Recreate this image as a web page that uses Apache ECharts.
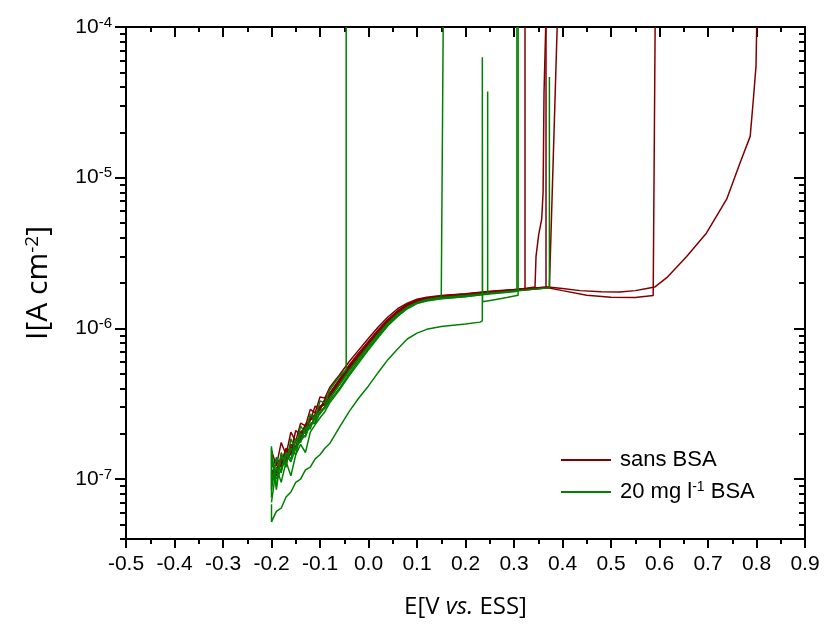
<!DOCTYPE html>
<html>
<head>
<meta charset="utf-8">
<script src="https://cdn.jsdelivr.net/npm/echarts@6/dist/echarts.min.js"></script>
<style>html,body{margin:0;padding:0;background:#fff;}#c{width:824px;height:624px;}</style>
</head>
<body>
<div id="c"></div>
<script>
// ---- tick values ----
const X_MIN = -0.5, X_MAX = 0.9, X_STEP = 0.1;
const Y_MIN = 4e-8, Y_MAX = 1e-4;
const Y_MAJOR = [1e-7, 1e-6, 1e-5, 1e-4];
const Y_MINOR = [4e-8,5e-8,6e-8,7e-8,8e-8,9e-8,
  2e-7,3e-7,4e-7,5e-7,6e-7,7e-7,8e-7,9e-7,
  2e-6,3e-6,4e-6,5e-6,6e-6,7e-6,8e-6,9e-6,
  2e-5,3e-5,4e-5,5e-5,6e-5,7e-5,8e-5,9e-5];

// ---- shared potential grid (V vs ESS) ----
const E_GRID = [-0.20,-0.19,-0.18,-0.17,-0.16,-0.15,-0.14,-0.13,-0.12,-0.11,-0.10,-0.09,-0.08,
  -0.06,-0.04,-0.02,0.00,0.02,0.04,0.06,0.08,0.10,0.12,0.15,0.20,0.25,0.30,0.35];

// ---- sans BSA (currents, A cm-2) ----
const R1_I = [1.55e-7,1.22e-7,1.75e-7,1.45e-7,2.05e-7,1.78e-7,2.35e-7,2.25e-7,2.90e-7,2.75e-7,3.50e-7,3.45e-7,4.05e-7,
  4.9e-7,6.0e-7,7.2e-7,8.6e-7,1.02e-6,1.19e-6,1.35e-6,1.47e-6,1.56e-6,1.61e-6,1.65e-6,1.70e-6,1.76e-6,1.81e-6];
const R1_TAIL = [[0.3227,1.84e-6],[0.3227,1e-4]];
const R2_I = [1.20e-7,1.35e-7,1.28e-7,1.60e-7,1.50e-7,2.10e-7,1.95e-7,2.30e-7,2.45e-7,3.05e-7,2.85e-7,3.40e-7,3.70e-7,
  4.6e-7,5.7e-7,6.9e-7,8.2e-7,9.8e-7,1.15e-6,1.31e-6,1.45e-6,1.54e-6,1.59e-6,1.64e-6,1.69e-6,1.75e-6,1.80e-6];
const R2_TAIL = [[0.3433,1.88e-6],[0.3454,3.0e-6],[0.351,4.2e-6],[0.3571,5.3e-6],[0.360,8.0e-6],[0.3619,3.66e-5],[0.3654,1e-4]];
const R3_I = [0.95e-7,1.15e-7,1.40e-7,1.30e-7,1.48e-7,1.62e-7,1.85e-7,2.30e-7,2.25e-7,2.55e-7,3.05e-7,3.10e-7,3.55e-7,
  4.4e-7,5.4e-7,6.5e-7,7.8e-7,9.3e-7,1.10e-6,1.26e-6,1.40e-6,1.50e-6,1.56e-6,1.61e-6,1.66e-6,1.72e-6,1.78e-6,1.84e-6];
const R3_TAIL = [[0.366,1.87e-6],[0.366,1e-4]];
const R4_I = [1.30e-7,1.10e-7,1.25e-7,1.55e-7,1.45e-7,1.80e-7,1.90e-7,2.10e-7,2.60e-7,2.60e-7,2.95e-7,3.35e-7,3.65e-7,
  4.5e-7,5.55e-7,6.7e-7,8.0e-7,9.6e-7,1.13e-6,1.29e-6,1.43e-6,1.52e-6,1.58e-6,1.63e-6,1.68e-6,1.74e-6,1.80e-6,1.86e-6];
const R4_TAIL = [[0.373,1.88e-6],[0.389,1e-4]];
const R5_I = [1.05e-7,1.30e-7,1.20e-7,1.50e-7,1.62e-7,1.65e-7,2.05e-7,2.20e-7,2.45e-7,2.70e-7,2.95e-7,3.30e-7,3.70e-7,
  4.5e-7,5.5e-7,6.6e-7,7.9e-7,9.4e-7,1.12e-6,1.28e-6,1.42e-6,1.52e-6,1.58e-6,1.63e-6,1.68e-6,1.74e-6,1.80e-6,1.86e-6];
const R5_TAIL = [[0.37,1.88e-6],[0.40,1.84e-6],[0.436,1.78e-6],[0.48,1.75e-6],[0.518,1.74e-6],[0.55,1.78e-6],
  [0.574,1.84e-6],[0.59,1.88e-6],[0.615,2.17e-6],[0.656,3.0e-6],[0.697,4.3e-6],[0.7385,7.2e-6],
  [0.766,1.25e-5],[0.787,1.88e-5],[0.7935,3.3e-5],[0.799,5.5e-5],[0.8004,1e-4]];
const R6_I = [1.15e-7,1.05e-7,1.35e-7,1.35e-7,1.70e-7,1.60e-7,1.95e-7,2.05e-7,2.50e-7,2.50e-7,3.00e-7,3.15e-7,3.50e-7,
  4.3e-7,5.3e-7,6.4e-7,7.7e-7,9.2e-7,1.09e-6,1.25e-6,1.39e-6,1.49e-6,1.55e-6,1.60e-6,1.65e-6,1.71e-6,1.77e-6,1.83e-6];
const R6_TAIL = [[0.37,1.86e-6],[0.40,1.78e-6],[0.45,1.66e-6],[0.50,1.61e-6],[0.55,1.60e-6],[0.587,1.65e-6],[0.591,1.67e-6],[0.591,1e-4]];

// ---- 20 mg l-1 BSA ----
const G1_LEAD = [[-0.2,6.8e-8]];
const G1_I = [5.2e-8,6.1e-8,6.4e-8,7.6e-8,8.2e-8,9.5e-8,1.0e-7,1.15e-7,1.2e-7,1.36e-7,1.45e-7,1.6e-7,1.72e-7,
  2.2e-7,2.8e-7,3.45e-7,4.15e-7,5.1e-7,6.2e-7,7.3e-7,8.5e-7,9.3e-7,9.85e-7,1.03e-6,1.07e-6];
const G1_TAIL = [[0.2299,1.10e-6],[0.2347,1.12e-6],[0.2347,6.3e-5],[0.2352,1.50e-6],[0.26,1.55e-6],[0.285,1.60e-6],[0.3085,1.66e-6],[0.3085,1e-4]];
const G2_LEAD = [[-0.2,7.5e-8]];
const G2_I = [1.60e-7,0.85e-7,1.45e-7,1.20e-7,1.85e-7,1.55e-7,2.25e-7,2.00e-7,2.70e-7,2.45e-7,3.30e-7,3.20e-7,3.90e-7,4.8e-7];
const G2_TAIL = [[-0.046,5.3e-7],[-0.046,1e-4]];
const G3_LEAD = [[-0.2,1.65e-7]];
const G3_I = [0.85e-7,1.40e-7,1.10e-7,1.50e-7,1.35e-7,1.85e-7,1.75e-7,2.20e-7,2.15e-7,2.70e-7,2.70e-7,3.05e-7,3.45e-7,
  4.2e-7,5.2e-7,6.3e-7,7.6e-7,9.1e-7,1.08e-6,1.24e-6,1.38e-6,1.48e-6,1.55e-6,1.60e-6];
const G3_TAIL = [[0.154,1.64e-6],[0.154,1e-4]];
const G4_I = [0.70e-7,1.20e-7,0.95e-7,1.30e-7,1.05e-7,1.45e-7,1.70e-7,1.50e-7,2.05e-7,2.30e-7,2.55e-7,2.80e-7,3.20e-7,
  3.9e-7,4.85e-7,5.9e-7,7.2e-7,8.7e-7,1.04e-6,1.20e-6,1.35e-6,1.46e-6,1.52e-6,1.57e-6,1.62e-6];
const G4_TAIL = [[0.2457,1.70e-6],[0.2457,3.73e-5]];
const G5_I = [1.10e-7,0.90e-7,1.50e-7,1.25e-7,1.60e-7,1.45e-7,2.00e-7,1.90e-7,2.35e-7,2.40e-7,2.80e-7,3.00e-7,3.40e-7,
  4.25e-7,5.25e-7,6.35e-7,7.65e-7,9.15e-7,1.08e-6,1.24e-6,1.38e-6,1.48e-6,1.55e-6,1.60e-6,1.65e-6,1.71e-6,1.77e-6,1.83e-6];
const G5_TAIL = [[0.373,1.86e-6],[0.373,4.66e-5]];
const G6_I = [1.35e-7,1.00e-7,1.15e-7,1.45e-7,1.30e-7,1.60e-7,1.80e-7,1.95e-7,2.30e-7,2.35e-7,2.75e-7,2.95e-7,3.30e-7,
  4.0e-7,5.0e-7,6.1e-7,7.35e-7,8.85e-7,1.05e-6,1.21e-6,1.36e-6,1.47e-6,1.53e-6,1.58e-6,1.63e-6,1.69e-6,1.75e-6];
const G6_TAIL = [[0.306,1.76e-6],[0.306,1e-4]];

const NAME_R = 'sans BSA';
const NAME_G = '20 mg l-1 BSA';
const COL_R = '#800000';
const COL_G = '#008000';

function build(lead, I, tail) {
  const pts = lead ? lead.slice() : [];
  I.forEach((v, i) => pts.push([E_GRID[i], v]));
  return pts.concat(tail);
}
const RED = [build(null,R1_I,R1_TAIL), build(null,R2_I,R2_TAIL), build(null,R3_I,R3_TAIL),
             build(null,R4_I,R4_TAIL), build(null,R5_I,R5_TAIL), build(null,R6_I,R6_TAIL)];
const GREEN = [build(G1_LEAD,G1_I,G1_TAIL), build(G2_LEAD,G2_I,G2_TAIL), build(G3_LEAD,G3_I,G3_TAIL),
               build(null,G4_I,G4_TAIL), build(null,G5_I,G5_TAIL), build(null,G6_I,G6_TAIL)];

function mk(name, color, data) {
  return { type: 'line', name, data, xAxisIndex: 0, yAxisIndex: 0, symbol: 'none', showSymbol: false,
    silent: true, lineStyle: { color, width: 1.5 }, itemStyle: { color }, clip: true };
}
const series = [];
RED.forEach(d => series.push(mk(NAME_R, COL_R, d)));
GREEN.forEach(d => series.push(mk(NAME_G, COL_G, d)));

const TICK_FONT = 'Liberation Sans';
const NAME_FONT = 'Open Sans';
const axLine = { show: true, onZero: false, lineStyle: { color: '#000', width: 2 } };
const noLine = { show: false, onZero: false };

const option = {
  animation: false,
  backgroundColor: '#fff',
  grid: { left: 126, right: 19, top: 27, bottom: 83, containLabel: false },
  legend: {
    orient: 'vertical', left: 556, top: 444, itemWidth: 50, itemHeight: 2, itemGap: 9, icon: 'rect',
    data: [NAME_R, NAME_G],
    formatter: n => n === NAME_G ? '{t|20 mg l}{s|-1}{t| BSA}' : '{t|sans BSA}',
    textStyle: { color: '#000', fontFamily: TICK_FONT, fontSize: 22, padding: [0, 0, 0, 4],
      rich: { t: { fontFamily: TICK_FONT, fontSize: 22, lineHeight: 24, color: '#000' },
              s: { fontFamily: TICK_FONT, fontSize: 14, lineHeight: 13, verticalAlign: 'top', color: '#000' } } }
  },
  xAxis: [
    { type: 'value', position: 'bottom', min: X_MIN, max: X_MAX, interval: X_STEP,
      axisLine: axLine, splitLine: { show: false },
      axisTick: { show: true, length: 9, lineStyle: { color: '#000', width: 2 } },
      minorTick: { show: true, splitNumber: 2, length: 5, lineStyle: { color: '#000', width: 2 } },
      axisLabel: { color: '#000', fontFamily: TICK_FONT, fontSize: 21, margin: 15, formatter: v => v.toFixed(1) },
      name: 'E[V {i|vs.} ESS]', nameLocation: 'middle', nameGap: 56,
      nameTextStyle: { color: '#000', fontFamily: NAME_FONT, fontSize: 24,
        rich: { i: { fontFamily: NAME_FONT, fontSize: 24, fontStyle: 'italic', color: '#000' } } } },
    { type: 'value', position: 'top', min: X_MIN, max: X_MAX, interval: X_STEP,
      axisLine: axLine, splitLine: { show: false }, axisLabel: { show: false },
      axisTick: { show: true, inside: true, length: 10, lineStyle: { color: '#000', width: 2 } },
      minorTick: { show: true, splitNumber: 2, length: 5, lineStyle: { color: '#000', width: 2 } } }
  ],
  yAxis: [
    { type: 'log', logBase: 10, position: 'left', min: Y_MIN, max: Y_MAX,
      axisLine: axLine, splitLine: { show: false }, minorSplitLine: { show: false },
      axisTick: { show: true, length: 11, customValues: Y_MAJOR, lineStyle: { color: '#000', width: 2 } },
      axisLabel: { customValues: Y_MAJOR, color: '#000', fontFamily: TICK_FONT, fontSize: 21, margin: 14,
        formatter: v => '{b|10}{s|' + Math.round(Math.log10(v)) + '}',
        rich: { b: { fontFamily: TICK_FONT, fontSize: 21, lineHeight: 24, color: '#000' },
                s: { fontFamily: TICK_FONT, fontSize: 15, lineHeight: 14, verticalAlign: 'top', color: '#000' } } },
      name: 'I[A cm{s|-2}]', nameLocation: 'middle', nameGap: 73,
      nameTextStyle: { color: '#000', fontFamily: NAME_FONT, fontSize: 30,
        rich: { s: { fontFamily: NAME_FONT, fontSize: 19, lineHeight: 16, verticalAlign: 'top', color: '#000' } } } },
    { type: 'log', logBase: 10, position: 'left', min: Y_MIN, max: Y_MAX,
      axisLine: noLine, splitLine: { show: false }, axisLabel: { show: false },
      axisTick: { show: true, length: 6, customValues: Y_MINOR, lineStyle: { color: '#000', width: 2 } } },
    { type: 'log', logBase: 10, position: 'right', min: Y_MIN, max: Y_MAX,
      axisLine: axLine, splitLine: { show: false }, axisLabel: { show: false },
      axisTick: { show: true, inside: true, length: 11, customValues: Y_MAJOR, lineStyle: { color: '#000', width: 2 } } },
    { type: 'log', logBase: 10, position: 'right', min: Y_MIN, max: Y_MAX,
      axisLine: noLine, splitLine: { show: false }, axisLabel: { show: false },
      axisTick: { show: true, inside: true, length: 6, customValues: Y_MINOR, lineStyle: { color: '#000', width: 2 } } }
  ],
  series
};
const chart = echarts.init(document.getElementById('c'), null, { renderer: 'canvas' });
chart.setOption(option);
</script>
</body>
</html>
